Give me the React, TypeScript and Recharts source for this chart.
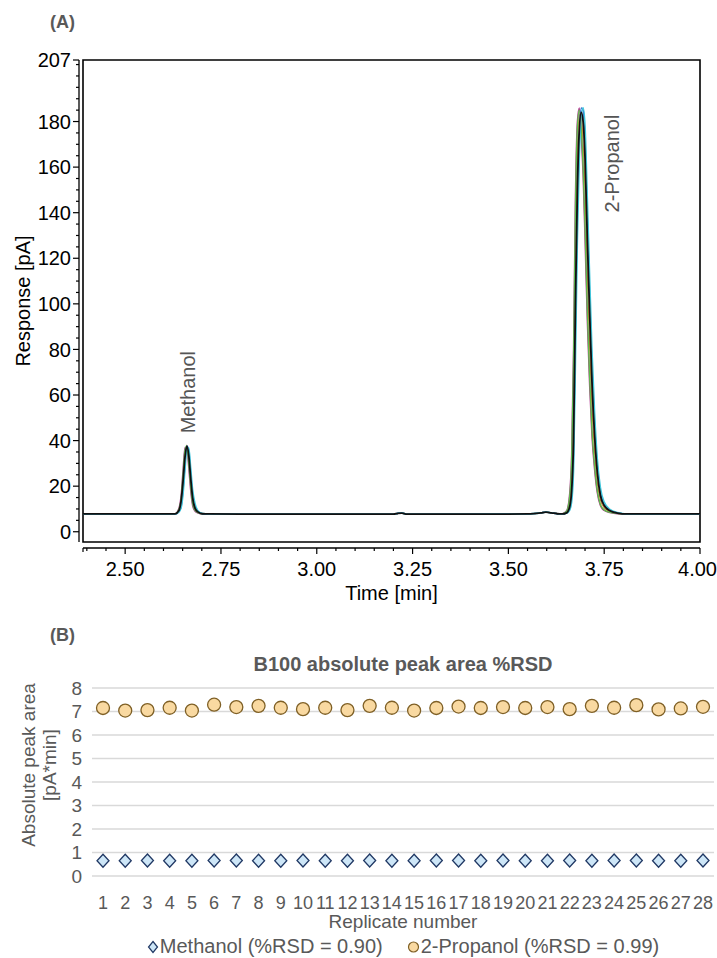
import React from "react";
import {
  LineChart,
  Line,
  XAxis,
  YAxis,
  CartesianGrid,
  ReferenceArea,
  ReferenceDot,
  Legend,
} from "recharts";

const FONT = '"Liberation Sans", Arial, Helvetica, sans-serif';
const GREY = "#595959";

// ---------- (A) chromatogram: one shared time grid, one value list per trace ----------
const baseTimesA = [2.39, 2.5, 2.6, 2.62];
const baseLevelA = [7.8, 7.8, 7.8, 7.8];
const methanolTimes = [2.63, 2.64, 2.646, 2.651, 2.656, 2.661, 2.666, 2.671, 2.676, 2.682, 2.69, 2.702];
const baseTimesB = [2.72, 2.8, 2.95, 3.1, 3.2, 3.212, 3.222, 3.235, 3.4, 3.55, 3.585, 3.598, 3.612, 3.628];
const baseLevelB = [7.8, 7.7, 7.7, 7.7, 7.7, 8.1, 8.2, 7.7, 7.7, 7.8, 8.3, 8.6, 8.3, 7.9];
const propanolTimes = [
  3.64, 3.652, 3.66, 3.665, 3.67, 3.675, 3.68, 3.685, 3.69, 3.695, 3.7,
  3.706, 3.712, 3.718, 3.725, 3.732, 3.74, 3.75, 3.765, 3.785, 3.81,
];
const baseTimesC = [3.85, 3.95, 4.0];
const baseLevelC = [7.8, 7.8, 7.8];

const methanolOrange = [7.8, 9.3, 13.0, 22.0, 33.0, 38.0, 32.0, 22.0, 13.5, 9.8, 8.5, 7.9];
const methanolMagenta = [7.8, 10.2, 16.0, 27.0, 37.0, 36.5, 28.0, 18.0, 11.5, 9.1, 8.2, 7.8];
const methanolGreen = [7.8, 9.7, 14.5, 25.0, 35.5, 37.8, 30.0, 20.0, 12.5, 9.5, 8.4, 7.8];
const methanolBlue = [7.8, 8.8, 11.0, 18.0, 29.0, 37.6, 35.5, 26.0, 16.5, 11.2, 8.9, 7.9];
const methanolCyan = [7.8, 8.6, 10.5, 16.5, 27.0, 36.8, 36.8, 28.0, 18.5, 12.5, 9.2, 8.0];
const methanolBlack = [7.8, 9.2, 13.5, 22.0, 32.5, 37.5, 33.5, 23.5, 15.0, 10.5, 8.7, 7.9];

const propanolOrange = [7.8, 8.6, 13, 23, 55, 122, 166, 183, 182, 170, 150, 112, 81, 55, 35, 21.5, 14, 10.5, 8.8, 8.1, 7.8];
const propanolMagenta = [7.8, 9.2, 17, 34, 80, 148, 180, 186, 174, 156, 128, 92, 64, 42, 27, 17, 11.5, 9.3, 8.4, 7.9, 7.8];
const propanolGreen = [7.8, 9.0, 15.5, 31, 74, 142, 177, 185, 177, 160, 134, 97, 68, 45, 29, 18, 12, 9.6, 8.5, 8.0, 7.8];
const propanolBlue = [7.8, 8.2, 10, 15, 33, 88, 140, 172, 186, 185, 172, 138, 104, 73, 47, 29, 17.5, 12, 9.4, 8.3, 7.8];
const propanolCyan = [7.8, 8.1, 9.5, 13, 27, 75, 128, 164, 183, 186, 178, 146, 112, 80, 52, 32, 19.5, 13, 9.8, 8.4, 7.8];
const propanolBlack = [7.8, 8.3, 11, 18, 40, 100, 150, 176, 184, 180, 164, 128, 96, 66, 42, 26, 16, 11.5, 9.2, 8.2, 7.8];

const traces = [
  { key: "orange", color: "#D98C3A", width: 1.3, methanol: methanolOrange, propanol: propanolOrange },
  { key: "magenta", color: "#B23A92", width: 1.4, methanol: methanolMagenta, propanol: propanolMagenta },
  { key: "green", color: "#5DBB4C", width: 1.4, methanol: methanolGreen, propanol: propanolGreen },
  { key: "blue", color: "#3050C8", width: 1.4, methanol: methanolBlue, propanol: propanolBlue },
  { key: "cyan", color: "#3FC5DA", width: 1.6, methanol: methanolCyan, propanol: propanolCyan },
  { key: "black", color: "#111111", width: 1.8, methanol: methanolBlack, propanol: propanolBlack },
];

type Row = { t: number; [k: string]: number };

function rowsFor(times: number[], pick: (tr: (typeof traces)[number], i: number) => number): Row[] {
  return times.map((t, i) => {
    const row: Row = { t };
    traces.forEach((tr) => {
      row[tr.key] = pick(tr, i);
    });
    return row;
  });
}

const chromRows: Row[] = [
  ...rowsFor(baseTimesA, (_, i) => baseLevelA[i]),
  ...rowsFor(methanolTimes, (tr, i) => tr.methanol[i]),
  ...rowsFor(baseTimesB, (_, i) => baseLevelB[i]),
  ...rowsFor(propanolTimes, (tr, i) => tr.propanol[i]),
  ...rowsFor(baseTimesC, (_, i) => baseLevelC[i]),
];

const responseLabels = [0, 20, 40, 60, 80, 100, 120, 140, 160, 180, 207];
const responseTicks = [...Array.from({ length: 42 }, (_, i) => i * 5), 207];
const timeLabels = [2.5, 2.75, 3.0, 3.25, 3.5, 3.75, 4.0];
const timeTicks = Array.from({ length: 33 }, (_, i) => Math.round((2.4 + i * 0.05) * 100) / 100);

// ---------- (B) peak areas ----------
const replicates = [1, 2, 3, 4, 5, 6, 7, 8, 9, 10, 11, 12, 13, 14, 15, 16, 17, 18, 19, 20, 21, 22, 23, 24, 25, 26, 27, 28];
const methanolArea = [
  0.65, 0.65, 0.66, 0.65, 0.65, 0.66, 0.66, 0.65, 0.65, 0.66, 0.65, 0.65, 0.66, 0.65,
  0.65, 0.66, 0.66, 0.65, 0.66, 0.65, 0.65, 0.66, 0.65, 0.66, 0.66, 0.65, 0.65, 0.66,
];
const propanolArea = [
  7.15, 7.04, 7.06, 7.16, 7.04, 7.29, 7.19, 7.24, 7.16, 7.1, 7.16, 7.06, 7.24, 7.16,
  7.04, 7.15, 7.21, 7.15, 7.19, 7.15, 7.19, 7.1, 7.24, 7.16, 7.27, 7.09, 7.13, 7.2,
];
const areaTicks = [0, 1, 2, 3, 4, 5, 6, 7, 8];
const legendOrder = ["methanol", "propanol"];

const areaRows = replicates.map((r, i) => ({
  rep: String(r),
  methanol: methanolArea[i],
  propanol: propanolArea[i],
}));

const renderTimeTick = (props: any) => {
  const { x, y, payload } = props;
  const major = timeLabels.some((l) => Math.abs(l - payload.value) < 1e-6);
  const last = Math.abs(payload.value - 4.0) < 1e-6;
  const ay = y + 6;
  return (
    <g>
      <line x1={x} x2={x} y1={ay} y2={ay + (major ? 6 : 3)} stroke="#000" strokeWidth={1.2} />
      {major && (
        <text
          x={last ? x + 17 : x}
          y={ay + 28}
          textAnchor={last ? "end" : "middle"}
          fontSize={20}
          fontFamily={FONT}
          fill="#000"
        >
          {Number(payload.value).toFixed(2)}
        </text>
      )}
    </g>
  );
};

const renderResponseTick = (props: any) => {
  const { x, y, payload } = props;
  const major = responseLabels.includes(payload.value);
  const ax = x - 4;
  return (
    <g>
      <line x1={ax} x2={ax - (major ? 6 : 3)} y1={y} y2={y} stroke="#000" strokeWidth={1.2} />
      {major && (
        <text x={ax - 8} y={y} dy="0.36em" textAnchor="end" fontSize={20} fontFamily={FONT} fill="#000">
          {payload.value}
        </text>
      )}
    </g>
  );
};

const renderTimeAxis = (props: any) => {
  const vb = props.viewBox;
  const ay = vb.y + 6;
  return (
    <g>
      <line x1={vb.x} x2={vb.x + vb.width} y1={ay} y2={ay} stroke="#000" strokeWidth={1.3} />
      <line x1={vb.x} x2={vb.x} y1={ay} y2={ay + 4} stroke="#000" strokeWidth={1.2} />
      <text x={vb.x + vb.width / 2} y={ay + 52} textAnchor="middle" fontSize={20} fontFamily={FONT} fill="#000">
        Time [min]
      </text>
    </g>
  );
};

const renderResponseAxis = (props: any) => {
  const vb = props.viewBox;
  const ax = vb.x + vb.width - 4;
  const cy = vb.y + vb.height / 2;
  return (
    <g>
      <line x1={ax} x2={ax} y1={vb.y} y2={vb.y + vb.height} stroke="#000" strokeWidth={1.3} />
      <text
        x={23}
        y={cy}
        transform={`rotate(-90, 23, ${cy})`}
        textAnchor="middle"
        dominantBaseline="central"
        fontSize={20}
        fontFamily={FONT}
        fill="#000"
      >
        Response [pA]
      </text>
    </g>
  );
};

const peakLabel = (text: string, dx: number, dy: number) => (props: any) => {
  const vb = props.viewBox;
  const x = vb.x + vb.width / 2 + dx;
  const y = vb.y + vb.height / 2 + dy;
  return (
    <text
      x={x}
      y={y}
      transform={`rotate(-90, ${x}, ${y})`}
      textAnchor="start"
      dominantBaseline="central"
      fontSize={20}
      fontFamily={FONT}
      fill="#555"
    >
      {text}
    </text>
  );
};

const renderDiamond = (props: any) => {
  const { cx, cy, index } = props;
  return (
    <path
      key={`d-${index}`}
      d={`M${cx},${cy - 6.5} L${cx + 6},${cy} L${cx},${cy + 6.5} L${cx - 6},${cy} Z`}
      fill="#CDE6F7"
      stroke="#203864"
      strokeWidth={1.3}
    />
  );
};

const renderCircle = (props: any) => {
  const { cx, cy, index } = props;
  return <circle key={`c-${index}`} cx={cx} cy={cy} r={6.5} fill="#F9D9A1" stroke="#7F6026" strokeWidth={1.3} />;
};

const renderReplicateLabel = (props: any) => {
  const vb = props.viewBox;
  return (
    <text x={vb.x + vb.width / 2} y={vb.y + 52} textAnchor="middle" fontSize={19} fontFamily={FONT} fill={GREY}>
      Replicate number
    </text>
  );
};

const renderAreaAxisTitle = () => (
  <g fontSize={19} fontFamily={FONT} fill={GREY}>
    <text x={28} y={765} transform="rotate(-90, 28, 765)" textAnchor="middle" dominantBaseline="central">
      Absolute peak area
    </text>
    <text x={49} y={765} transform="rotate(-90, 49, 765)" textAnchor="middle" dominantBaseline="central">
      [pA*min]
    </text>
  </g>
);

const renderAreaLegend = (props: any) => {
  const items = [...(props.payload || [])].sort(
    (a: any, b: any) => legendOrder.indexOf(a.dataKey) - legendOrder.indexOf(b.dataKey)
  );
  return (
    <div
      style={{
        display: "flex",
        justifyContent: "center",
        alignItems: "center",
        gap: 24,
        height: 26,
        paddingTop: 3,
        boxSizing: "border-box",
        paddingLeft: 92,
        fontFamily: FONT,
        fontSize: 20,
        color: GREY,
      }}
    >
      {items.map((item: any) => (
        <span key={item.dataKey} style={{ display: "flex", alignItems: "center" }}>
          {item.dataKey === "methanol" ? (
            <svg width={12} height={14} style={{ marginRight: 1 }}>
              <path d="M6,1.5 L10.5,7 L6,12.5 L1.5,7 Z" fill="#CDE6F7" stroke="#203864" strokeWidth={1.2} />
            </svg>
          ) : (
            <svg width={13} height={14} style={{ marginRight: 1 }}>
              <circle cx={6.5} cy={7} r={5} fill="#F9D9A1" stroke="#7F6026" strokeWidth={1.2} />
            </svg>
          )}
          {item.value}
        </span>
      ))}
    </div>
  );
};

export default function App() {
  return (
    <div
      style={{
        position: "absolute",
        left: 0,
        top: 0,
        width: 717,
        height: 958,
        background: "#fff",
        fontFamily: FONT,
        overflow: "hidden",
      }}
    >
      <div style={{ position: "absolute", left: 50, top: 11, fontSize: 18, fontWeight: 700, color: GREY, lineHeight: "22px" }}>
        (A)
      </div>
      <div style={{ position: "absolute", left: 0, top: 0 }}>
        <LineChart width={717} height={610} data={chromRows} margin={{ top: 60, right: 17, bottom: 0, left: 0 }}>
          <XAxis
            dataKey="t"
            type="number"
            domain={[2.39, 4.0]}
            allowDataOverflow
            ticks={timeTicks}
            interval={0}
            height={68}
            axisLine={false}
            tickLine={false}
            tickSize={0}
            tickMargin={0}
            tick={renderTimeTick}
            label={renderTimeAxis}
          />
          <YAxis
            type="number"
            domain={[-4.5, 207]}
            allowDataOverflow
            ticks={responseTicks}
            interval={0}
            width={83}
            axisLine={false}
            tickLine={false}
            tickSize={0}
            tickMargin={0}
            tick={renderResponseTick}
            label={renderResponseAxis}
          />
          {traces.map((tr) => (
            <Line
              key={tr.key}
              dataKey={tr.key}
              type="monotone"
              stroke={tr.color}
              strokeWidth={tr.width}
              dot={false}
              activeDot={false}
              isAnimationActive={false}
            />
          ))}
          <ReferenceArea x1={2.39} x2={4.0} y1={-4.5} y2={207} fill="none" fillOpacity={0} stroke="#000" strokeWidth={1.6} />
          <ReferenceDot x={2.661} y={37.5} r={0} fill="none" stroke="none" label={peakLabel("Methanol", 1, -13)} />
          <ReferenceDot x={3.69} y={184} r={0} fill="none" stroke="none" label={peakLabel("2-Propanol", 31, 100)} />
        </LineChart>
      </div>

      <div style={{ position: "absolute", left: 50, top: 624, fontSize: 18, fontWeight: 700, color: GREY, lineHeight: "22px" }}>
        (B)
      </div>
      <div
        style={{
          position: "absolute",
          left: 92,
          width: 622,
          top: 652,
          textAlign: "center",
          fontSize: 20,
          fontWeight: 700,
          color: GREY,
          lineHeight: "24px",
        }}
      >
        B100 absolute peak area %RSD
      </div>
      <div style={{ position: "absolute", left: 0, top: 620 }}>
        <LineChart width={717} height={338} data={areaRows} margin={{ top: 68, right: 3, bottom: 0, left: 0 }}>
          <CartesianGrid vertical={false} stroke="#D9D9D9" strokeWidth={1.3} />
          <XAxis
            dataKey="rep"
            padding={{ left: 11, right: 11 }}
            interval={0}
            height={56}
            axisLine={false}
            tickLine={false}
            tickSize={0}
            tickMargin={20}
            tick={{ fill: GREY, fontSize: 18, fontFamily: FONT }}
            label={renderReplicateLabel}
          />
          <YAxis
            type="number"
            domain={[0, 8]}
            ticks={areaTicks}
            interval={0}
            width={92}
            axisLine={false}
            tickLine={false}
            tickSize={0}
            tickMargin={10}
            tick={{ fill: GREY, fontSize: 19, fontFamily: FONT }}
          />
          <Legend verticalAlign="bottom" height={26} content={renderAreaLegend} />
          <Line
            dataKey="methanol"
            name="Methanol (%RSD = 0.90)"
            stroke="none"
            dot={renderDiamond}
            activeDot={false}
            isAnimationActive={false}
          />
          <Line
            dataKey="propanol"
            name="2-Propanol (%RSD = 0.99)"
            stroke="none"
            dot={renderCircle}
            activeDot={false}
            isAnimationActive={false}
          />
        </LineChart>
      </div>
      <svg
        width={80}
        height={338}
        style={{ position: "absolute", left: 0, top: 620, overflow: "visible" }}
        viewBox="0 620 80 338"
      >
        {renderAreaAxisTitle()}
      </svg>
    </div>
  );
}
